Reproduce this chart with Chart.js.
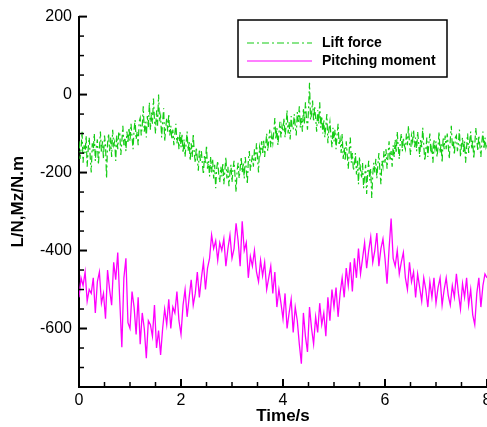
<!DOCTYPE html>
<html>
<head>
<meta charset="utf-8">
<script src="https://cdn.jsdelivr.net/npm/chart.js@4/dist/chart.umd.min.js"></script>
<style>
  html, body { margin: 0; padding: 0; background: #fff; overflow: hidden; }
  #wrap { width: 500px; height: 427px; }
</style>
</head>
<body>
<div id="wrap"><canvas id="chart" width="500" height="427"></canvas></div>
<script>
// sample spacing of each record (s)
const liftStep = 0.02
const momentStep = 0.04

// Lift force L/N
const liftForce = [
  -120,-165,-140,-95,-175,-130,-150,-105,-185,-140,
  -110,-160,-200,-125,-145,-100,-170,-135,-115,-180,
  -140,-95,-150,-120,-165,-105,-130,-215,-125,-100,
  -145,-110,-160,-90,-130,-120,-170,-105,-140,-95,
  -100,-155,-120,-80,-130,-110,-145,-95,-125,-85,
  -120,-75,-110,-140,-90,-65,-115,-95,-130,-70,
  -60,-105,-80,-30,-95,-70,-110,-55,-85,-20,
  -90,-45,-75,-10,-65,-100,-40,-80,0,-70,
  -55,-110,-70,-35,-120,-85,-60,-95,-50,-105,
  -80,-115,-90,-130,-100,-75,-125,-105,-140,-95,
  -135,-100,-150,-115,-160,-125,-95,-145,-120,-170,
  -125,-160,-100,-150,-175,-135,-165,-195,-140,-170,
  -145,-180,-205,-155,-175,-130,-190,-170,-210,-160,
  -200,-165,-215,-180,-240,-190,-170,-205,-225,-185,
  -210,-175,-230,-195,-160,-215,-185,-235,-200,-180,
  -225,-190,-170,-210,-250,-195,-175,-215,-190,-160,
  -200,-175,-215,-160,-190,-230,-170,-145,-195,-175,
  -155,-185,-140,-170,-125,-160,-200,-135,-150,-120,
  -150,-115,-160,-130,-100,-145,-120,-90,-135,-105,
  -125,-95,-60,-115,-85,-130,-100,-70,-110,-80,
  -95,-60,-110,-80,-40,-100,-70,-115,-55,-85,
  -90,-50,-80,-105,-45,-70,-30,-85,-60,-95,
  -35,-75,-20,-60,-90,-40,30,-65,-50,-15,
  -70,-30,-60,-95,-40,-75,-20,-85,-55,-100,
  -65,-110,-80,-50,-125,-90,-70,-105,-135,-85,
  -120,-90,-140,-105,-75,-130,-115,-150,-100,-165,
  -135,-170,-120,-155,-190,-140,-110,-175,-150,-195,
  -180,-150,-205,-170,-230,-160,-195,-215,-175,-240,
  -210,-180,-255,-200,-170,-220,-190,-265,-205,-175,
  -200,-165,-215,-180,-150,-195,-230,-170,-185,-145,
  -175,-140,-190,-155,-120,-170,-145,-185,-130,-160,
  -115,-150,-95,-135,-165,-120,-100,-145,-110,-130,
  -140,-100,-130,-80,-125,-155,-105,-120,-90,-135,
  -110,-145,-95,-125,-160,-115,-135,-85,-130,-170,
  -145,-110,-160,-125,-100,-150,-135,-175,-115,-140,
  -120,-160,-135,-95,-150,-125,-175,-110,-140,-105,
  -140,-100,-130,-165,-115,-80,-135,-120,-155,-110,
  -105,-145,-125,-90,-160,-130,-110,-150,-120,-175,
  -135,-100,-150,-120,-95,-140,-115,-165,-130,-85,
  -115,-145,-105,-130,-160,-120,-95,-140,-110,-135,
  -125
]

// Pitching moment Mz/N.m
const pitchingMoment = [
  -520,-470,-490,-455,-530,
  -500,-510,-470,-560,-480,
  -455,-535,-510,-575,-450,
  -500,-540,-430,-475,-405,
  -530,-648,-470,-420,-585,
  -600,-505,-545,-615,-520,
  -640,-560,-600,-676,-580,
  -590,-620,-540,-650,-605,
  -668,-600,-550,-590,-525,
  -600,-545,-560,-505,-580,
  -615,-540,-500,-570,-520,
  -475,-540,-510,-455,-520,
  -470,-430,-500,-445,-420,
  -360,-395,-375,-425,-380,
  -400,-370,-440,-395,-360,
  -420,-395,-330,-375,-440,
  -325,-400,-380,-470,-415,
  -440,-400,-455,-480,-425,
  -465,-430,-500,-470,-440,
  -510,-455,-545,-500,-535,
  -575,-510,-600,-560,-525,
  -610,-545,-580,-640,-690,
  -560,-620,-660,-545,-600,
  -640,-570,-610,-535,-590,
  -560,-620,-520,-580,-500,
  -545,-495,-570,-510,-470,
  -520,-445,-490,-430,-505,
  -420,-470,-395,-460,-420,
  -380,-445,-400,-365,-430,
  -400,-355,-440,-395,-370,
  -420,-485,-395,-318,-420,
  -440,-400,-460,-430,-405,
  -470,-500,-430,-480,-455,
  -520,-460,-495,-530,-470,
  -500,-545,-480,-520,-470,
  -535,-495,-470,-540,-500,
  -470,-515,-540,-490,-520,
  -460,-510,-550,-485,-520,
  -470,-540,-500,-565,-590,
  -510,-470,-545,-490,-460,
  -470
]

const xTicks = [0, 2, 4, 6, 8]
const yTicks = [-600, -400, -200, 0, 200]

const FONT = "'Liberation Sans', Arial, Helvetica, sans-serif"

function toPoints(values, step) {
  return values.map((v, i) => ({ x: +(i * step).toFixed(3), y: v }))
}

// inward major/minor tick marks on the left and bottom axes
const tickMarks = {
  id: 'tickMarks',
  afterDraw(chart) {
    const { ctx, chartArea, scales } = chart
    const x = scales.x, y = scales.y
    ctx.save()
    ctx.strokeStyle = '#000'
    for (let v = x.min; v <= x.max + 1e-9; v += 0.5) {
      const major = xTicks.includes(v)
      const px = x.getPixelForValue(v)
      ctx.lineWidth = major ? 2 : 1.5
      ctx.beginPath()
      ctx.moveTo(px, chartArea.bottom)
      ctx.lineTo(px, chartArea.bottom - (major ? 8 : 5))
      ctx.stroke()
    }
    for (let v = y.min; v <= y.max + 1e-9; v += 50) {
      const major = yTicks.includes(v)
      const py = y.getPixelForValue(v)
      ctx.lineWidth = major ? 2 : 1.5
      ctx.beginPath()
      ctx.moveTo(chartArea.left, py)
      ctx.lineTo(chartArea.left + (major ? 8 : 5), py)
      ctx.stroke()
    }
    ctx.restore()
  }
}

// boxed legend in the upper right
const boxLegend = {
  id: 'boxLegend',
  afterDraw(chart) {
    const { ctx } = chart
    ctx.save()
    ctx.fillStyle = '#fff'
    ctx.fillRect(238, 20, 209, 57)
    ctx.strokeStyle = '#000'
    ctx.lineWidth = 1.5
    ctx.strokeRect(238, 20, 209, 57)
    chart.data.datasets.forEach((ds, i) => {
      const yy = 43 + i * 18
      ctx.strokeStyle = ds.borderColor
      ctx.lineWidth = 1.2
      ctx.setLineDash(ds.borderDash || [])
      ctx.beginPath()
      ctx.moveTo(247, yy)
      ctx.lineTo(312, yy)
      ctx.stroke()
      ctx.setLineDash([])
      ctx.fillStyle = '#000'
      ctx.font = 'bold 14px ' + FONT
      ctx.textBaseline = 'middle'
      ctx.textAlign = 'left'
      ctx.fillText(ds.label, 322, yy)
    })
    ctx.restore()
  }
}

const ctx = document.getElementById('chart').getContext('2d')
new Chart(ctx, {
  type: 'line',
  data: {
    datasets: [
      {
        label: 'Lift force',
        data: toPoints(liftForce, liftStep),
        borderColor: '#14cc14',
        borderWidth: 1.2,
        borderDash: [7, 3, 2, 3],
        pointRadius: 0,
        tension: 0,
        fill: false
      },
      {
        label: 'Pitching moment',
        data: toPoints(pitchingMoment, momentStep),
        borderColor: '#ff00ff',
        borderWidth: 1.3,
        pointRadius: 0,
        tension: 0,
        fill: false
      }
    ]
  },
  options: {
    responsive: false,
    animation: false,
    devicePixelRatio: 1,
    layout: { padding: { top: 15, right: 13, left: 0, bottom: 0 } },
    plugins: {
      legend: { display: false },
      tooltip: { enabled: false }
    },
    scales: {
      x: {
        type: 'linear',
        min: 0,
        max: 8,
        afterBuildTicks: s => { s.ticks = xTicks.map(v => ({ value: v })) },
        afterFit: s => { s.height = 40 },
        grid: { display: false, drawTicks: false },
        border: { display: true, color: '#000', width: 2 },
        ticks: {
          color: '#000',
          padding: 4,
          maxRotation: 0,
          autoSkip: false,
          font: { family: FONT, size: 16 }
        },
        title: {
          display: true,
          text: 'Time/s',
          color: '#000',
          padding: { top: 0, bottom: 0 },
          font: { family: FONT, size: 17, weight: 'bold' }
        }
      },
      y: {
        type: 'linear',
        min: -750,
        max: 200,
        afterBuildTicks: s => { s.ticks = yTicks.map(v => ({ value: v })) },
        afterFit: s => { s.width = 79 },
        grid: { display: false, drawTicks: false },
        border: { display: true, color: '#000', width: 2 },
        ticks: {
          color: '#000',
          padding: 7,
          autoSkip: false,
          font: { family: FONT, size: 16 }
        },
        title: {
          display: true,
          text: 'L/N,Mz/N.m',
          color: '#000',
          padding: { top: 8, bottom: 0 },
          font: { family: FONT, size: 17, weight: 'bold' }
        }
      }
    }
  },
  plugins: [tickMarks, boxLegend]
})
</script>
</body>
</html>
